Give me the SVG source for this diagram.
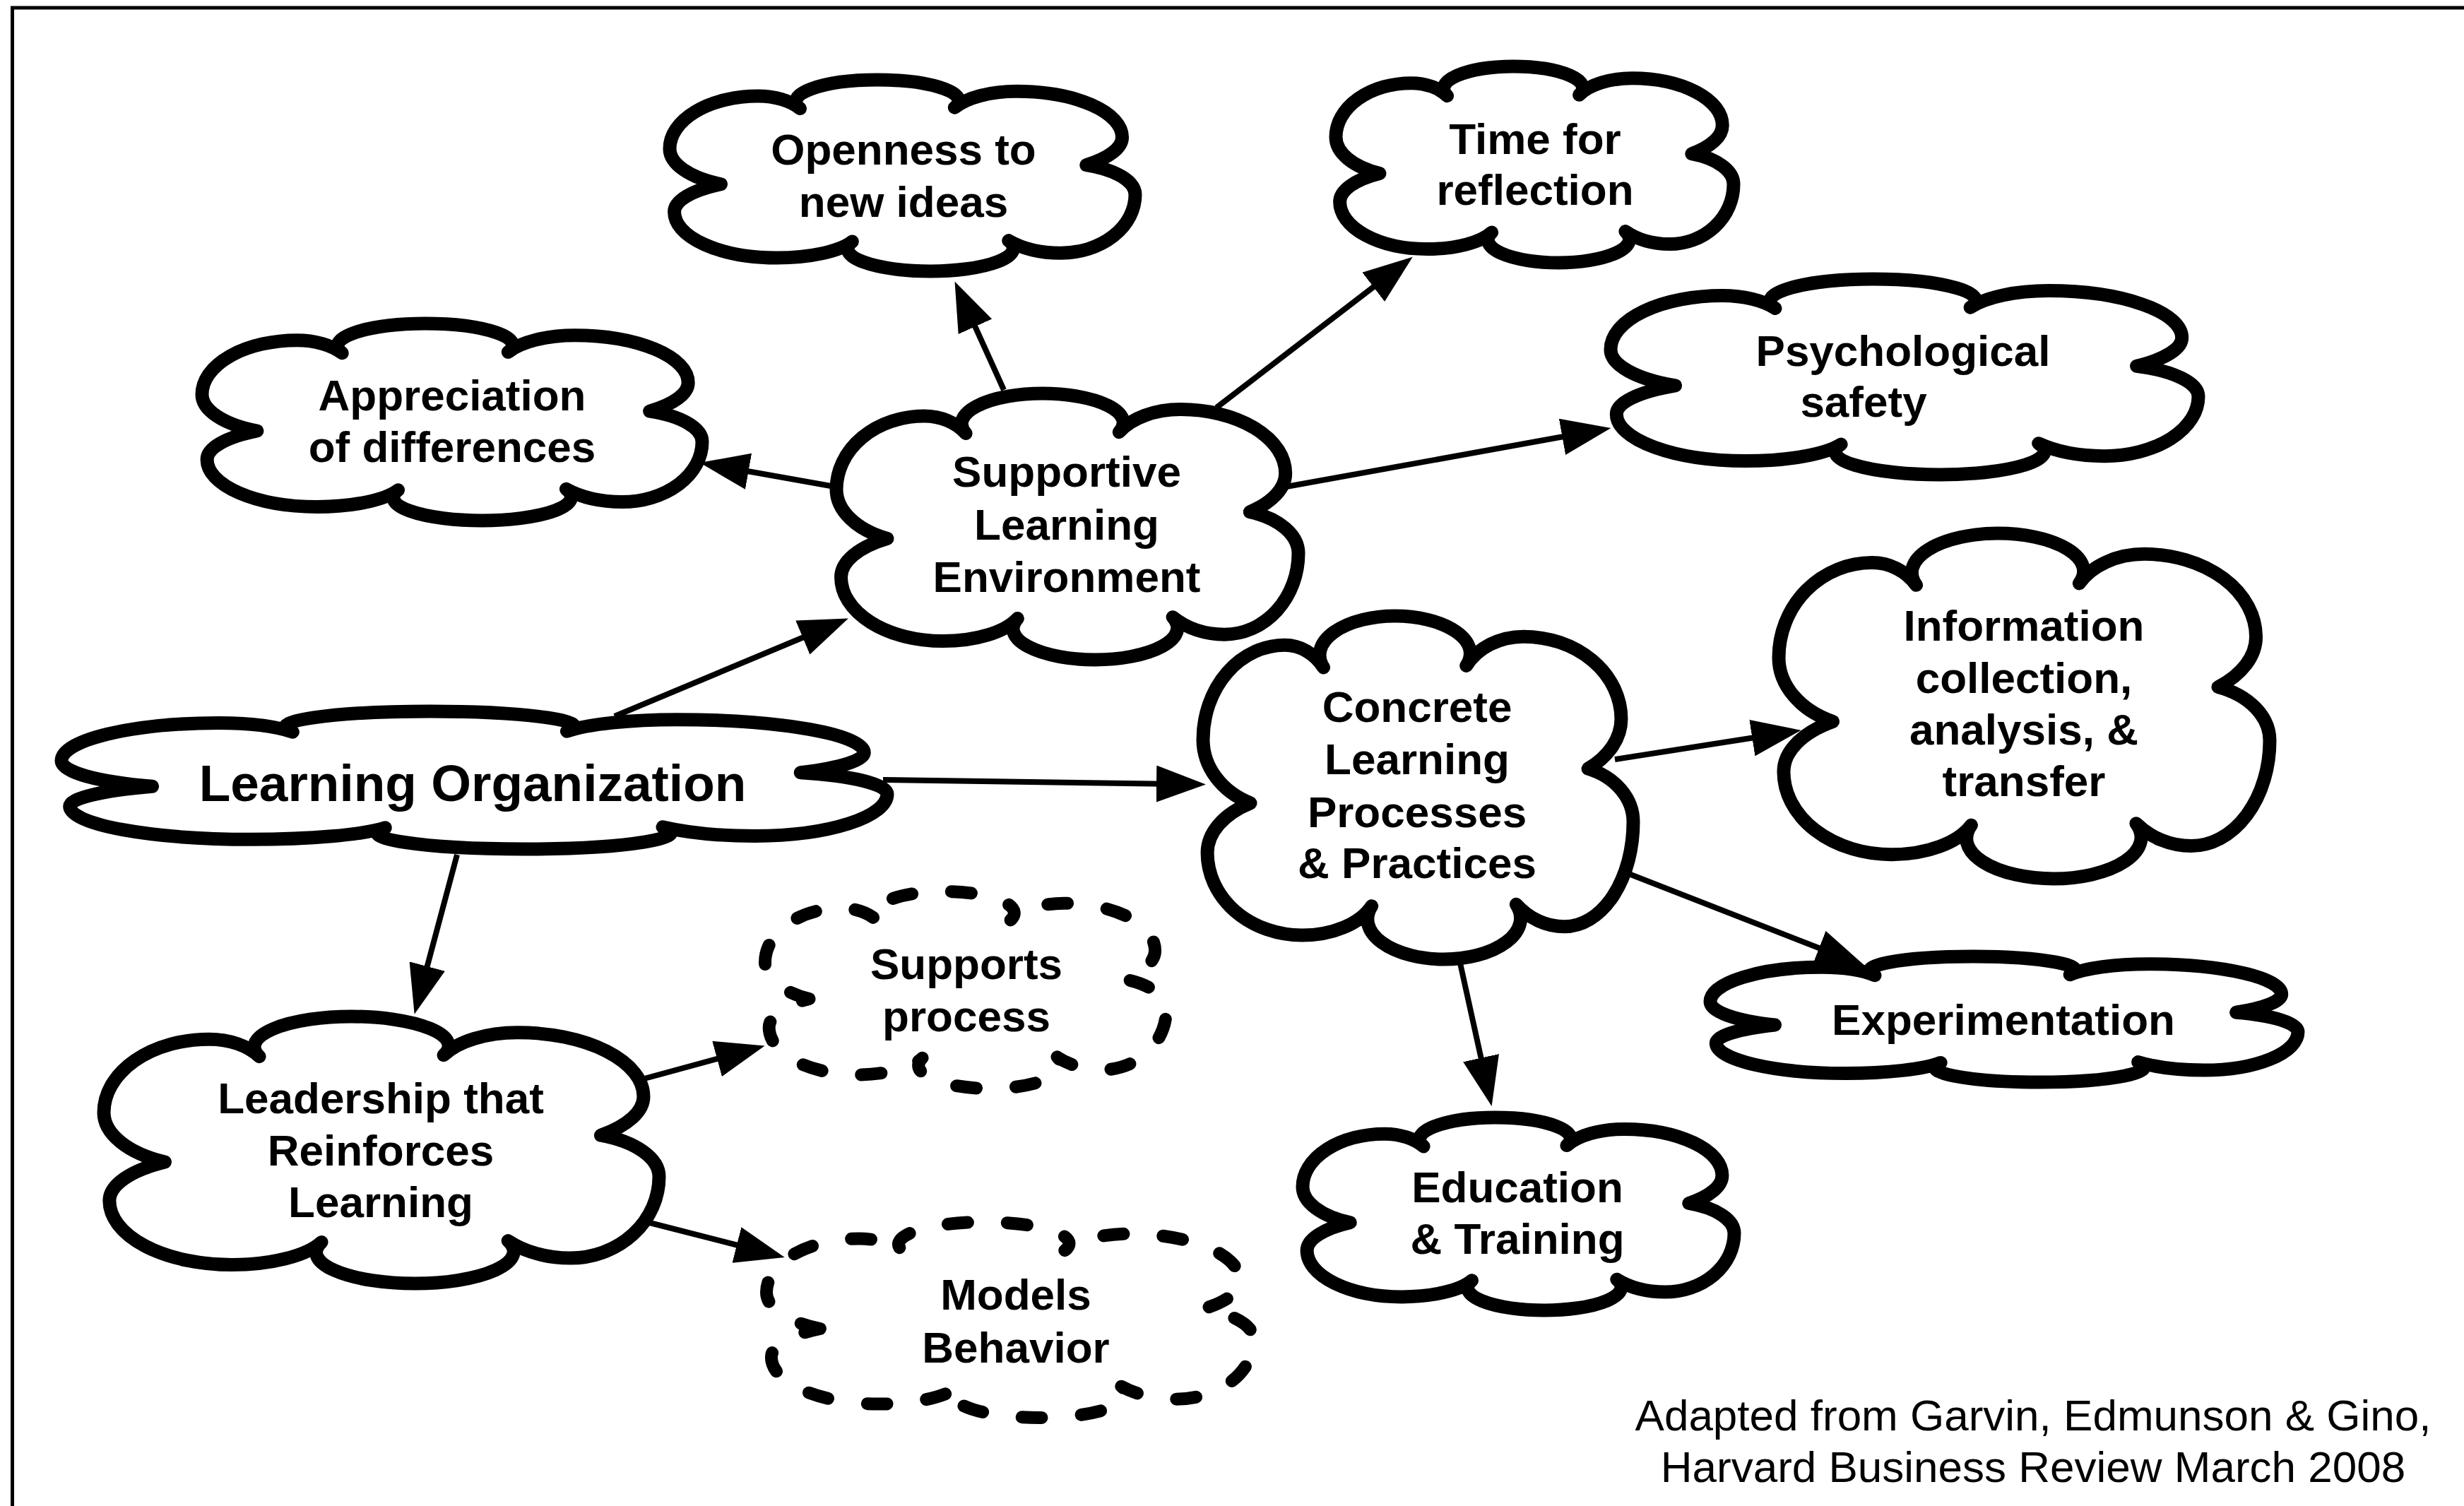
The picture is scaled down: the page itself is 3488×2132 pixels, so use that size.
<svg xmlns="http://www.w3.org/2000/svg" xmlns:xlink="http://www.w3.org/1999/xlink" width="3488" height="2132" viewBox="0 0 3488 2132">
<defs>
<style>
.bg{fill:#fff}
.frame{fill:none;stroke:#000;stroke-width:5}
.cloud{fill:#fff;stroke:#000;stroke-width:19;stroke-linejoin:round}
.dashed{fill:#fff;stroke:#000;stroke-width:18;stroke-linecap:round;stroke-linejoin:round;stroke-dasharray:28 56}
.lbl{font-family:"Liberation Sans",Arial,Helvetica,sans-serif;font-weight:bold;font-size:62px;fill:#000;text-anchor:middle}
.big{font-size:73px}
.cite{font-family:"Liberation Sans",Arial,Helvetica,sans-serif;font-size:62px;fill:#000;text-anchor:middle}
.conn{stroke:#000;stroke-width:8;fill:none;marker-end:url(#arrow)}
</style>
<path id="cloud" vector-effect="non-scaling-stroke" d="M110,545 A190,204 0 0 1 0,360 A190,275 0 0 1 190,85 A110,153 0 0 1 280,150 A175,114 0 0 1 446,0 A175,110 0 0 1 612,145 A150,158 0 0 1 745,60 A227,240 0 0 1 972,300 A227,193 0 0 1 895,445 A160,165 0 0 1 1000,600 A160,305 0 0 1 840,905 A160,227 0 0 1 728,840 A178,120 0 0 1 560,1000 A178,117 0 0 1 392,845 A175,137 0 0 1 230,930 A220,240 0 0 1 10,690 A220,173 0 0 1 110,545 Z"/>
<marker id="arrow" markerUnits="userSpaceOnUse" markerWidth="70" markerHeight="52" refX="30" refY="26" orient="auto"><path d="M0,0 L70,26 L0,52 Z" fill="#000"/></marker>
</defs>
<rect class="bg" x="0" y="0" width="3488" height="2132"/>
<rect class="frame" x="17.5" y="11" width="3600" height="2300"/>
<g id="connectors">
<line class="conn" x1="1421" y1="552" x2="1368" y2="435"/>
<line class="conn" x1="1722" y1="577" x2="1968" y2="388"/>
<line class="conn" x1="1176" y1="688" x2="1030" y2="662"/>
<line class="conn" x1="1821" y1="689" x2="2241" y2="613"/>
<line class="conn" x1="870" y1="1014" x2="1164" y2="891"/>
<line class="conn" x1="1250" y1="1104" x2="1667" y2="1110"/>
<line class="conn" x1="647" y1="1210" x2="597" y2="1397"/>
<line class="conn" x1="2286" y1="1075" x2="2510" y2="1040"/>
<line class="conn" x1="2298" y1="1234" x2="2603" y2="1353"/>
<line class="conn" x1="2064" y1="1350" x2="2103" y2="1527"/>
<line class="conn" x1="912" y1="1527" x2="1044" y2="1491"/>
<line class="conn" x1="904" y1="1727" x2="1072" y2="1770"/>
</g>
<g id="node-openness"><use href="#cloud" class="cloud" transform="translate(948,113) scale(0.659,0.271)"/><text class="lbl" x="1279" y="233">Openness to</text><text class="lbl" x="1279" y="307">new ideas</text></g>
<g id="node-time"><use href="#cloud" class="cloud" transform="translate(1891,94) scale(0.563,0.278)"/><text class="lbl" x="2173" y="218">Time for</text><text class="lbl" x="2173" y="290">reflection</text></g>
<g id="node-appreciation"><use href="#cloud" class="cloud" transform="translate(286,458) scale(0.708,0.279)"/><text class="lbl" x="640" y="581">Appreciation</text><text class="lbl" x="640" y="654">of differences</text></g>
<g id="node-psych"><use href="#cloud" class="cloud" transform="translate(2280,395) scale(0.832,0.277)"/><text class="lbl" x="2694" y="518">Psychological</text><text class="lbl" x="2638" y="590">safety</text></g>
<g id="node-supportive"><use href="#cloud" class="cloud" transform="translate(1184,557) scale(0.654,0.377)"/><text class="lbl" x="1510" y="689">Supportive</text><text class="lbl" x="1510" y="764">Learning</text><text class="lbl" x="1510" y="838">Environment</text></g>
<g id="node-concrete"><use href="#cloud" class="cloud" transform="translate(1703,872) scale(0.609,0.486)"/><text class="lbl" x="2006" y="1022">Concrete</text><text class="lbl" x="2006" y="1096">Learning</text><text class="lbl" x="2006" y="1171">Processes</text><text class="lbl" x="2006" y="1243">&amp; Practices</text></g>
<g id="node-learning-org"><use href="#cloud" class="cloud" transform="translate(87,1007) scale(1.169,0.195)"/><text class="lbl big" x="669" y="1134">Learning Organization</text></g>
<g id="node-leadership"><use href="#cloud" class="cloud" transform="translate(147,1439) scale(0.786,0.378)"/><text class="lbl" x="539" y="1576">Leadership that</text><text class="lbl" x="539" y="1650">Reinforces</text><text class="lbl" x="539" y="1723">Learning</text></g>
<g id="node-information"><use href="#cloud" class="cloud" transform="translate(2518,755) scale(0.695,0.489)"/><text class="lbl" x="2865" y="907">Information</text><text class="lbl" x="2865" y="981">collection,</text><text class="lbl" x="2865" y="1054">analysis, &amp;</text><text class="lbl" x="2865" y="1127">transfer</text></g>
<g id="node-experimentation"><use href="#cloud" class="cloud" transform="translate(2421,1354) scale(0.832,0.178)"/><text class="lbl" x="2836" y="1465">Experimentation</text></g>
<g id="node-education"><use href="#cloud" class="cloud" transform="translate(1844,1582) scale(0.611,0.273)"/><text class="lbl" x="2148" y="1702">Education</text><text class="lbl" x="2148" y="1775">&amp; Training</text></g>
<g id="node-supports"><use href="#cloud" class="dashed" transform="translate(1083,1262) scale(0.568,0.279)"/><text class="lbl" x="1368" y="1386">Supports</text><text class="lbl" x="1368" y="1460">process</text></g>
<g id="node-models"><use href="#cloud" class="dashed" transform="translate(1085,1730) scale(0.690,0.277)"/><text class="lbl" x="1438" y="1854">Models</text><text class="lbl" x="1438" y="1929">Behavior</text></g>
<g id="citation"><text class="cite" x="2878" y="2025">Adapted from Garvin, Edmunson &amp; Gino,</text><text class="cite" x="2878" y="2098">Harvard Business Review March 2008</text></g>
</svg>
